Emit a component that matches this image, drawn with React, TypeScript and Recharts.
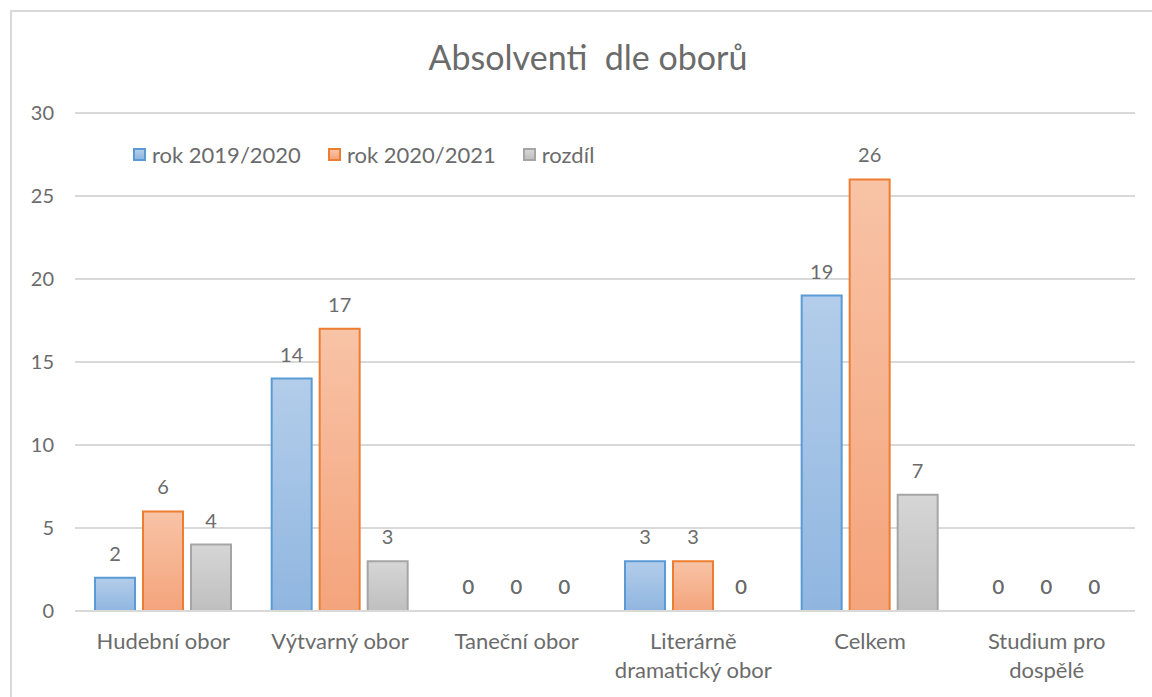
import React from 'react';
import { BarChart, Bar, XAxis, YAxis, CartesianGrid, LabelList, Rectangle } from 'recharts';

// kategorie a hodnoty
const categories = [
  'Hudební obor',
  'Výtvarný obor',
  'Taneční obor',
  'Literárně\ndramatický obor',
  'Celkem',
  'Studium pro\ndospělé',
];
const rok2019 = [2, 14, 0, 3, 19, 0];
const rok2020 = [6, 17, 0, 3, 26, 0];
const rozdil = [4, 3, 0, 0, 7, 0];
const yTicks = [0, 5, 10, 15, 20, 25, 30];

const SERIES = [
  { key: 'rok2019', name: 'rok 2019/2020', stroke: '#5b9bd5', top: '#b3cdea', bottom: '#90b6e0' },
  { key: 'rok2020', name: 'rok 2020/2021', stroke: '#ed7d31', top: '#f8c3a6', bottom: '#f4a47c' },
  { key: 'rozdil', name: 'rozdíl', stroke: '#a5a5a5', top: '#d6d6d6', bottom: '#bfbfbf' },
];

const data = categories.map((name, i) => ({
  name,
  rok2019: rok2019[i],
  rok2020: rok2020[i],
  rozdil: rozdil[i],
}));

const FONT = 'Lato, "Open Sans", sans-serif';
const TEXT = '#6b6b6b';
const LABEL_OFFSET = 17;

const XTick = ({ x, y, payload }: any) => {
  const lines: string[] = String(payload.value).split('\n');
  return (
    <text x={x} y={y} textAnchor="middle" fill={TEXT} fontSize={22} fontFamily={FONT}>
      {lines.map((l, i) => (
        <tspan key={i} x={x} dy={i === 0 ? 38 : 29}>
          {l}
        </tspan>
      ))}
    </text>
  );
};

// nulové sloupce LabelList vynechává, popisek "0" kreslíme ve tvaru sloupce
const BarShape = (props: any) => {
  const { x, y, width, height, value } = props;
  const v = Array.isArray(value) ? value[1] - value[0] : value;
  if (!height || v === 0) {
    return (
      <text
        x={x + width / 2}
        y={y - LABEL_OFFSET}
        textAnchor="middle"
        fill={TEXT}
        fontSize={20}
        fontFamily={FONT}
      >
        0
      </text>
    );
  }
  return <Rectangle {...props} />;
};

const App: React.FC = () => {
  return (
    <div style={{ position: 'absolute', left: 0, top: 0, width: 1152, height: 697, overflow: 'hidden', background: '#fff' }}>
      <div
        style={{
          position: 'absolute',
          left: 10,
          top: 10,
          width: 1160,
          height: 710,
          border: '2px solid #d9d9d9',
          boxSizing: 'border-box',
        }}
      />
      <div
        style={{
          position: 'absolute',
          left: 0,
          top: 38,
          width: 1176,
          textAlign: 'center',
          fontFamily: FONT,
          fontSize: 34,
          lineHeight: '38px',
          color: TEXT,
          whiteSpace: 'pre',
        }}
      >
        {'Absolventi  dle oborů'}
      </div>
      <div
        style={{
          position: 'absolute',
          left: 133,
          top: 141,
          display: 'flex',
          alignItems: 'center',
          fontFamily: FONT,
          fontSize: 22,
          color: TEXT,
          zIndex: 2,
        }}
      >
        {SERIES.map((s) => (
          <div key={s.key} style={{ display: 'flex', alignItems: 'center', marginRight: 27 }}>
            <span
              style={{
                display: 'inline-block',
                width: 13,
                height: 13,
                boxSizing: 'border-box',
                border: `2px solid ${s.stroke}`,
                background: `linear-gradient(${s.top}, ${s.bottom})`,
                marginRight: 6,
              }}
            />
            <span>{s.name}</span>
          </div>
        ))}
      </div>
      <div style={{ position: 'absolute', left: 0, top: 0 }}>
        <BarChart
          width={1152}
          height={697}
          data={data}
          margin={{ top: 113, right: 17, bottom: 0, left: 0 }}
          barGap={8}
          barSize={40}
        >
          <defs>
            {SERIES.map((s) => (
              <linearGradient key={s.key} id={`grad-${s.key}`} x1="0" y1="0" x2="0" y2="1">
                <stop offset="0%" stopColor={s.top} />
                <stop offset="100%" stopColor={s.bottom} />
              </linearGradient>
            ))}
          </defs>
          <CartesianGrid vertical={false} stroke="#d9d9d9" strokeWidth={2} />
          <XAxis
            dataKey="name"
            height={86}
            interval={0}
            tickLine={false}
            tickSize={0}
            tickMargin={0}
            axisLine={{ stroke: '#d9d9d9', strokeWidth: 2 }}
            tick={<XTick />}
          />
          <YAxis
            width={75}
            domain={[0, 30]}
            ticks={yTicks}
            axisLine={false}
            tickLine={false}
            tickSize={0}
            tickMargin={21}
            tick={{ fill: TEXT, fontSize: 20, fontFamily: FONT }}
          />
          {SERIES.map((s) => (
            <Bar
              key={s.key}
              dataKey={s.key}
              name={s.name}
              fill={`url(#grad-${s.key})`}
              stroke={s.stroke}
              strokeWidth={2}
              shape={<BarShape />}
              isAnimationActive={false}
            >
              <LabelList
                dataKey={s.key}
                position="top"
                offset={LABEL_OFFSET}
                fill={TEXT}
                fontSize={20}
                fontFamily={FONT}
              />
            </Bar>
          ))}
        </BarChart>
      </div>
    </div>
  );
};

export default App;
